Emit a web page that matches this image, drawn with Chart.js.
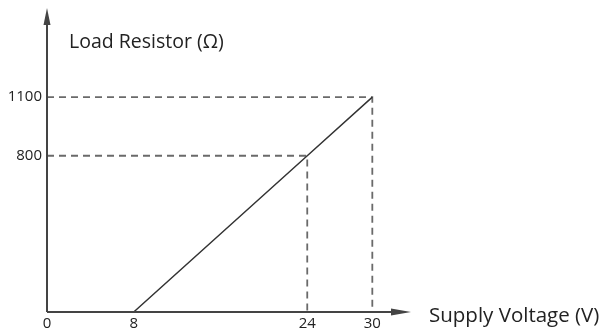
<!DOCTYPE html>
<html>
<head>
<meta charset="utf-8">
<script src="https://cdn.jsdelivr.net/npm/chart.js@4"></script>
<style>
  html, body { margin: 0; padding: 0; background: #fff; }
  #wrap { width: 601px; height: 334px; }
</style>
</head>
<body>
<div id="wrap"><canvas id="loadChart"></canvas></div>
<script>
// supply voltage (V) vs max load resistor (Ω)
const voltage = [8, 24, 30];
const resistance = [0, 800, 1100];
const xTicks = [0, 8, 24, 30];
const yTicks = [800, 1100];
const xTitle = 'Supply Voltage (V)';
const yTitle = 'Load Resistor (Ω)';

const FONT = '"Open Sans", "Noto Sans", sans-serif';
const AXIS_COLOR = '#444';

const linePoints = voltage.map((v, i) => ({ x: v, y: resistance[i] }));

// dashed guides: from y axis across to the point, then down to x axis
const guideSets = linePoints.filter(p => p.y > 0).map(p => ({
    data: [{ x: 0, y: p.y }, { x: p.x, y: p.y }, { x: p.x, y: 0 }],
    showLine: true,
    borderColor: '#6a6a6a',
    borderWidth: 1.8,
    borderDash: [7, 5],
    pointRadius: 0,
    clip: false,
    order: 2
}));

/** Draws arrowed axes and the two axis captions */
const arrowAxes = {
    id: 'arrowAxes',
    afterDraw(chart) {
        const { ctx, chartArea } = chart;
        const ox = chartArea.left, oy = chartArea.bottom;
        ctx.save();
        ctx.strokeStyle = AXIS_COLOR;
        ctx.fillStyle = AXIS_COLOR;
        ctx.lineWidth = 2;
        ctx.beginPath();
        ctx.moveTo(ox, oy);
        ctx.lineTo(ox, 22);
        ctx.moveTo(ox, oy);
        ctx.lineTo(395, oy);
        ctx.stroke();
        // arrow heads
        ctx.beginPath();
        ctx.moveTo(ox, 8);
        ctx.lineTo(ox - 3.5, 25);
        ctx.lineTo(ox + 3.5, 25);
        ctx.closePath();
        ctx.fill();
        ctx.beginPath();
        ctx.moveTo(411, oy);
        ctx.lineTo(391, oy - 3.5);
        ctx.lineTo(391, oy + 3.5);
        ctx.closePath();
        ctx.fill();

        ctx.fillStyle = '#222';
        ctx.textBaseline = 'alphabetic';
        ctx.textAlign = 'left';
        ctx.font = '19.5px ' + FONT;
        ctx.fillText(yTitle, 69, 48);
        ctx.font = '20.5px ' + FONT;
        ctx.fillText(xTitle, 429, 322);
        ctx.restore();
    }
};

new Chart(document.getElementById('loadChart'), {
    type: 'scatter',
    data: {
        datasets: [{
            data: linePoints,
            showLine: true,
            borderColor: '#333',
            borderWidth: 1.5,
            pointRadius: 0,
            clip: false,
            order: 1
        }, ...guideSets]
    },
    options: {
        responsive: true,
        maintainAspectRatio: false,
        animation: false,
        layout: { padding: { top: 19, right: 207, bottom: 0, left: 0 } },
        plugins: { legend: { display: false }, tooltip: { enabled: false } },
        scales: {
            x: {
                type: 'linear',
                min: 0,
                max: 32,
                afterBuildTicks: s => { s.ticks = xTicks.map(v => ({ value: v })); },
                afterFit: s => { s.height = 22; },
                grid: { display: false, drawTicks: false },
                border: { display: false },
                ticks: {
                    padding: 3,
                    color: '#222',
                    font: { family: FONT, size: 15 },
                    maxRotation: 0,
                    autoSkip: false,
                    callback: v => String(v)
                }
            },
            y: {
                type: 'linear',
                min: 0,
                max: 1500,
                afterBuildTicks: s => { s.ticks = yTicks.map(v => ({ value: v })); },
                afterFit: s => { s.width = 47; },
                grid: { display: false, drawTicks: false },
                border: { display: false },
                ticks: {
                    padding: 5,
                    color: '#222',
                    font: { family: FONT, size: 15 },
                    autoSkip: false,
                    callback: v => String(v)
                }
            }
        }
    },
    plugins: [arrowAxes]
});
</script>
</body>
</html>
